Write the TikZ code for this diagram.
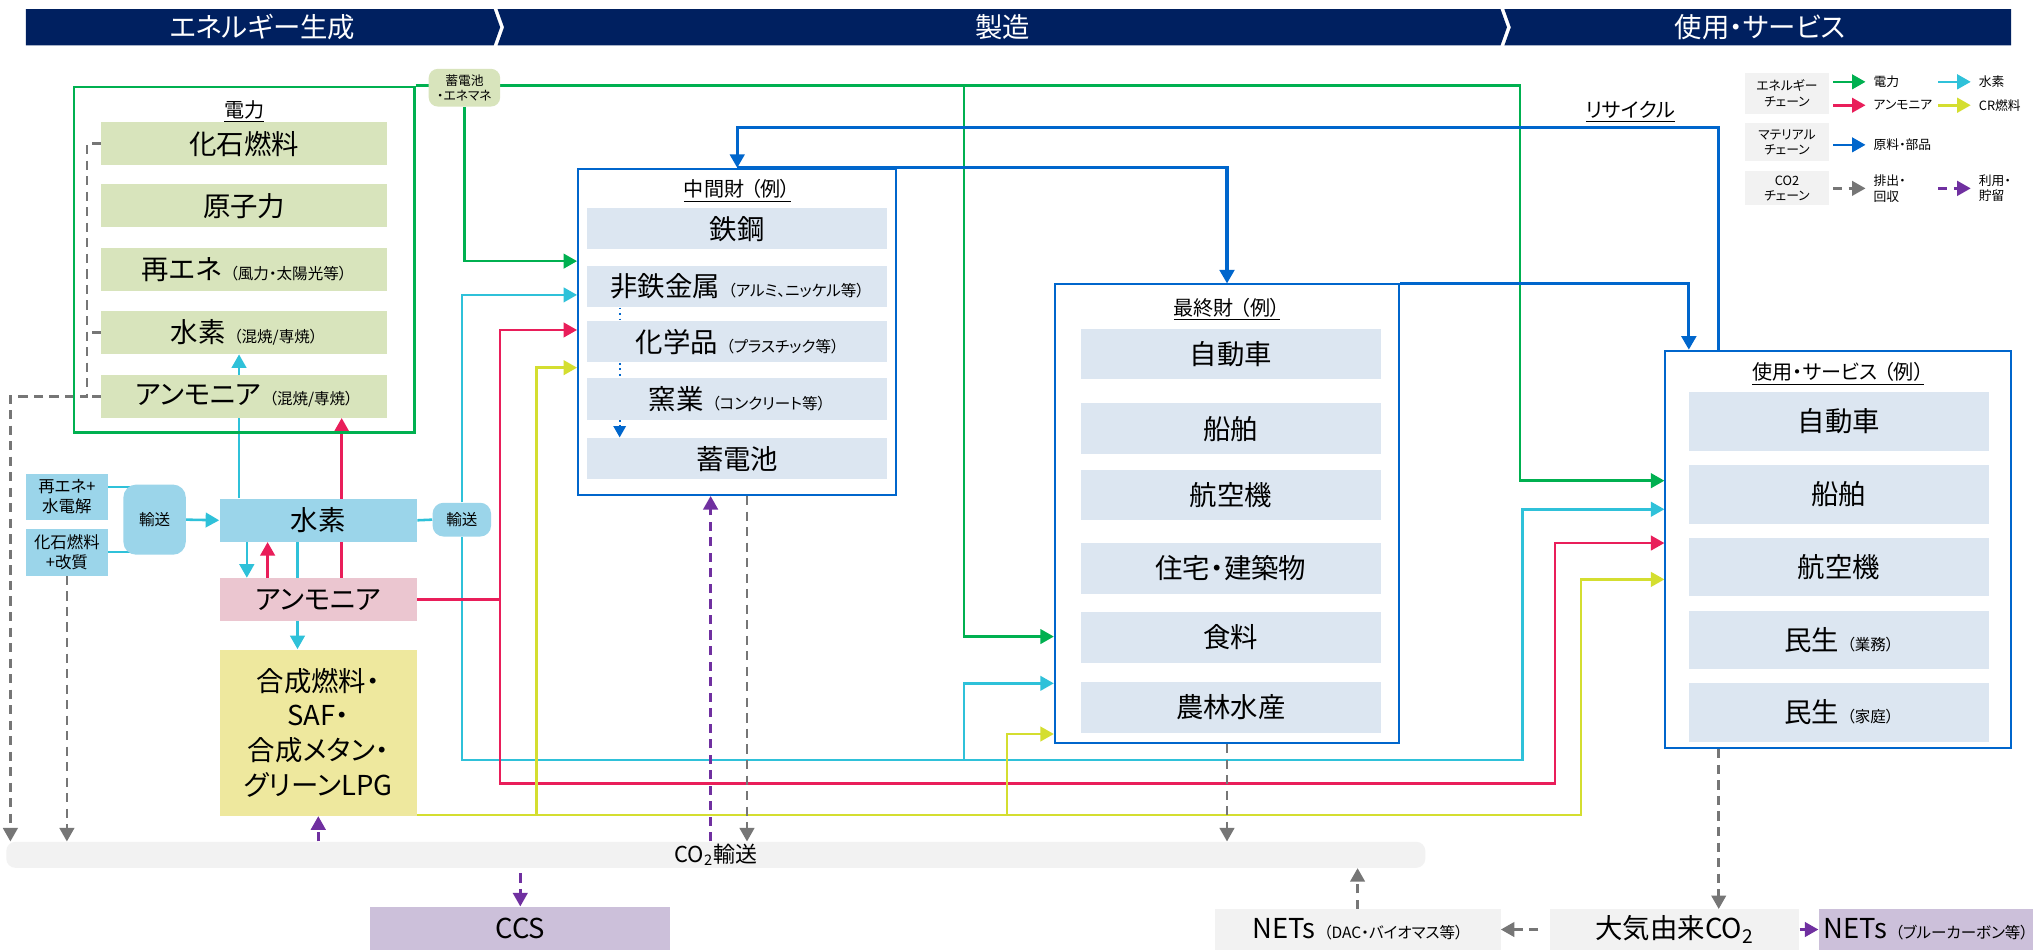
\documentclass[tikz,border=0pt]{standalone}
\usepackage{fontspec}
\setmainfont{Noto Sans CJK JP}[RawFeature={+palt}]
\usetikzlibrary{arrows.meta, positioning, backgrounds}
\definecolor{navy}{HTML}{002060}
\definecolor{elec}{HTML}{00B050}
\definecolor{hydro}{HTML}{2FC1D9}
\definecolor{ammo}{HTML}{E91E5A}
\definecolor{crfuel}{HTML}{D4DE30}
\definecolor{matl}{HTML}{0066CC}
\definecolor{emit}{HTML}{767676}
\definecolor{store}{HTML}{7030A0}
\definecolor{pgreen}{HTML}{D8E4BC}
\definecolor{itemblue}{HTML}{DCE6F1}
\definecolor{h2fill}{HTML}{9BD5EA}
\definecolor{nh3fill}{HTML}{EBC6D0}
\definecolor{synfill}{HTML}{EEE89E}
\definecolor{ccsfill}{HTML}{CCC0DA}
\definecolor{greyfill}{HTML}{F2F2F2}
\newcommand{\szBig}{\fontsize{15}{18}\selectfont}
\newcommand{\szSyn}{\fontsize{15}{19}\selectfont}
\newcommand{\szHead}{\fontsize{15}{18}\selectfont}
\newcommand{\szTitle}{\fontsize{11}{13}\selectfont}
\newcommand{\szCO}{\fontsize{12}{14}\selectfont}
\newcommand{\szMid}{\fontsize{9}{11}\selectfont}
\newcommand{\szSmall}{\fontsize{8.5}{10}\selectfont}
\newcommand{\szTiny}{\fontsize{7}{8.5}\selectfont}
\newcommand{\paren}[1]{\hspace{0.3em}{\szSmall （#1）}}

\begin{document}
\begin{tikzpicture}[
    x=0.025cm, y=-0.025cm,
    every node/.style={inner sep=0pt, font=\szBig},
    hd/.style={text=white, font=\szHead},
    ttl/.style={font=\szTitle},
    pitem/.style={fill=pgreen, minimum width=5.5cm, minimum height=0.825cm},
    initem/.style={fill=itemblue, minimum width=5.775cm},
    mitem/.style={initem, minimum height=0.8cm},
    fitem/.style={initem, minimum height=0.975cm},
    uitem/.style={initem, minimum height=1.125cm},
    boxframe/.style={draw=matl, line width=1.1pt},
    lgbox/.style={fill=greyfill, minimum width=1.625cm, font=\szTiny, align=center},
    lglab/.style={anchor=west, font=\szTiny, align=left},
    conn/.style={line width=1.4pt},
    arrow/.style={conn, -{Triangle[length=0.26cm, width=0.28cm]}},
    barrow/.style={arrow, matl, line width=1.7pt},
    gconn/.style={conn, emit, dash pattern=on 5pt off 3.5pt},
    gdash/.style={arrow, gconn},
    pdash/.style={arrow, store, dash pattern=on 5pt off 3.5pt},
]
\useasboundingbox (0,0) rectangle (1568,731);

\fill[navy] (20,7) -- (380,7) -- (385,21) -- (380,35) -- (20,35) -- cycle;
\fill[navy] (383,7) -- (1155,7) -- (1160,21) -- (1155,35) -- (383,35) -- (388,21) -- cycle;
\fill[navy] (1158,7) -- (1548,7) -- (1548,35) -- (1158,35) -- (1163,21) -- cycle;
\node[hd] (hdGen) at (202,21) {エネルギー生成};
\node[hd] (hdMfg) at (772,21) {製造};
\node[hd] (hdUse) at (1355,21) {使用・サービス};

\node[draw=elec, line width=1.4pt, minimum width=6.55cm, minimum height=6.65cm] (pwr) at (188,200) {};
\node[ttl] (pwrT) at (188,86) {\underline{電力}};
\node[pitem] (pFos) at (188,110.5) {化石燃料};
\node[pitem] (pNuc) at (188,158.5) {原子力};
\node[pitem] (pRen) at (188,207.5) {再エネ\paren{風力・太陽光等}};
\node[pitem] (pH2) at (188,256) {水素\paren{混焼/専焼}};
\node[pitem] (pNH3) at (188,305) {アンモニア\paren{混焼/専焼}};
\node[fill=pgreen, rounded corners=5pt, minimum width=1.375cm, minimum height=0.725cm, font=\szTiny, align=center] (bat) at (357.5,67.5) {蓄電池\\・エネマネ};

\node[boxframe, minimum width=6.125cm, minimum height=6.275cm] (mid) at (567.5,255.5) {};
\node[ttl] (midT) at (567.5,147) {\underline{中間財\hspace{0.3em}（例）}};
\node[mitem] (mSteel) at (567.5,176) {鉄鋼};
\node[mitem] (mMetal) at (567.5,220.5) {非鉄金属\paren{アルミ、ニッケル等}};
\node[mitem] (mChem) at (567.5,263) {化学品\paren{プラスチック等}};
\node[mitem] (mCer) at (567.5,307) {窯業\paren{コンクリート等}};
\node[mitem] (mBat) at (567.5,353) {蓄電池};

\node[boxframe, minimum width=6.625cm, minimum height=8.825cm] (fin) at (944.5,395.5) {};
\node[ttl] (finT) at (944.5,238) {\underline{最終財\hspace{0.3em}（例）}};
\node[fitem] (fCar) at (947.5,272.5) {自動車};
\node[fitem] (fShip) at (947.5,330) {船舶};
\node[fitem] (fAir) at (947.5,381) {航空機};
\node[fitem] (fHouse) at (947.5,437.5) {住宅・建築物};
\node[fitem] (fFood) at (947.5,490.5) {食料};
\node[fitem] (fAgri) at (947.5,544.5) {農林水産};

\node[boxframe, minimum width=6.65cm, minimum height=7.65cm] (use) at (1415,423) {};
\node[ttl] (useT) at (1415,288) {\underline{使用・サービス\hspace{0.3em}（例）}};
\node[uitem] (uCar) at (1415.5,324.5) {自動車};
\node[uitem] (uShip) at (1415.5,380.5) {船舶};
\node[uitem] (uAir) at (1415.5,436.5) {航空機};
\node[uitem] (uBiz) at (1415.5,492.5) {民生\paren{業務}};
\node[uitem] (uHome) at (1415.5,548.5) {民生\paren{家庭}};

\node[fill=h2fill, minimum width=1.575cm, minimum height=0.875cm, font=\szMid, align=center] (srcRen) at (51.5,382.5) {再エネ+\\水電解};
\node[fill=h2fill, minimum width=1.575cm, minimum height=0.9cm, font=\szMid, align=center] (srcFos) at (51.5,425) {化石燃料\\+改質};
\node[fill=h2fill, rounded corners=7pt, minimum width=1.2cm, minimum height=1.35cm, font=\szSmall] (trL) at (119,400) {輸送};
\node[fill=h2fill, minimum width=3.8cm, minimum height=0.825cm] (h2) at (245,400.5) {水素};
\node[fill=h2fill, rounded corners=6pt, minimum width=1.125cm, minimum height=0.65cm, font=\szSmall] (trR) at (355.5,400) {輸送};
\node[fill=nh3fill, minimum width=3.8cm, minimum height=0.825cm] (nh3) at (245,461.5) {アンモニア};
\node[fill=synfill, minimum width=3.8cm, minimum height=3.2cm, align=center, font=\szSyn] (syn) at (245,564) {合成燃料・\\SAF・\\合成メタン・\\グリーンLPG};

\node[fill=greyfill, rounded corners=5pt, minimum width=27.3cm, minimum height=0.5cm, font=\szCO] (co2) at (551,658) {CO\textsubscript{2}輸送};
\node[fill=ccsfill, minimum width=5.775cm, minimum height=0.825cm] (ccs) at (400.5,714.5) {CCS};
\node[fill=greyfill, minimum width=5.5cm, minimum height=0.775cm] (netA) at (1045,715.5) {NETs\paren{DAC・バイオマス等}};
\node[fill=greyfill, minimum width=4.8cm, minimum height=0.775cm] (air) at (1289,715.5) {大気由来CO\textsubscript{2}};
\node[fill=ccsfill, minimum width=4.125cm, minimum height=0.775cm] (netB) at (1482.5,715.5) {NETs\paren{ブルーカーボン等}};

\node[ttl] (rec) at (1255,86) {\underline{リサイクル}};

\node[lgbox, minimum height=0.8cm] (lgE) at (1375.5,72) {エネルギー\\チェーン};
\node[lgbox, minimum height=0.725cm] (lgM) at (1375.5,109.5) {マテリアル\\チェーン};
\node[lgbox, minimum height=0.65cm] (lgC) at (1375.5,145) {CO2\\チェーン};
\node[lglab] (lgPow) at (1442,63) {電力};
\node[lglab] (lgH2) at (1523,63) {水素};
\node[lglab] (lgNH3) at (1442,81) {アンモニア};
\node[lglab] (lgCR) at (1523,81) {CR燃料};
\node[lglab] (lgMat) at (1442,111.5) {原料・部品};
\node[lglab] (lgEmit) at (1442,145) {排出・\\回収};
\node[lglab] (lgUse) at (1523,145) {利用・\\貯留};

\coordinate (gSplit) at (742,67);
\coordinate (cSplit) at (742,585);
\coordinate (rSplit) at (385,461.5);
\coordinate (yMid) at (413,627.5);
\coordinate (yFin) at (775,627.5);
\coordinate (dashJoin) at (67,305);

\begin{scope}[on background layer]
\fill[white] (0,0) rectangle (1568,731);
\draw[arrow, elec] (pwr.north east) -| (1170,370) -- (use.west |- 0,370);
\draw[arrow, elec] (bat.south) |- (mid.west |- 0,201);
\draw[arrow, elec] (gSplit) |- (fin.west |- 0,490);

\draw[arrow, hydro] (184,0 |- h2.north) -- (184,0 |- pH2.south);
\draw[arrow, hydro] (190,0 |- h2.south) -- (190,0 |- nh3.north);
\draw[arrow, hydro] (229,0 |- h2.south) -- (229,0 |- syn.north);
\draw[conn, hydro] (srcRen.east |- 0,375) -- (trL.center |- 0,375);
\draw[conn, hydro] (srcFos.east |- 0,425) -- (trL.center |- 0,425);
\draw[arrow, hydro] (trL.east) -- (h2.west);
\draw[conn, hydro] (h2.east) -- (trR.west);
\draw[arrow, hydro] (trR.north) |- (mid.west |- 0,227);
\draw[arrow, hydro] (trR.south) |- (1172,585) |- (use.west |- 0,392);
\draw[arrow, hydro] (cSplit) |- (fin.west |- 0,526);

\draw[arrow, ammo] (263,0 |- nh3.north) -- (263,0 |- pNH3.south);
\draw[arrow, ammo] (206,0 |- nh3.north) -- (206,0 |- h2.south);
\draw[arrow, ammo] (nh3.east) -| (385,254) -- (mid.west |- 0,254);
\draw[arrow, ammo] (rSplit) |- (1197,603) |- (use.west |- 0,418);

\draw[arrow, crfuel] (syn.east |- 0,627.5) -| (1217,446) -- (use.west |- 0,446);
\draw[arrow, crfuel] (yMid) |- (mid.west |- 0,283);
\draw[arrow, crfuel] (yFin) |- (fin.west |- 0,565);

\draw[barrow] (mid.north) -| (fin.north);
\draw[barrow] (fin.north east) -| (1300,0 |- use.north);
\draw[barrow] (1323,0 |- use.north) |- (mid.north |- 0,98) -- (mid.north);
\draw[matl, line width=1pt, dotted] (477,0 |- mMetal.south) -- (477,0 |- mChem.north);
\draw[matl, line width=1pt, dotted] (477,0 |- mChem.south) -- (477,0 |- mCer.north);
\draw[matl, line width=1pt, dotted, -{Triangle[length=0.22cm, width=0.24cm]}] (477,0 |- mCer.south) -- (477,0 |- mBat.north);

\draw[gdash] (pFos.west) -| (dashJoin) -| (8,0 |- co2.north);
\draw[gconn] (pH2.west) -- (67,0 |- pH2.west);
\draw[gconn] (pNH3.west) -- (dashJoin);
\draw[gdash] (srcFos.south) -- (srcFos.south |- co2.north);
\draw[gdash] (575,0 |- mid.south) -- (575,0 |- co2.north);
\draw[gdash] (fin.south) -- (fin.south |- co2.north);
\draw[gdash] (netA.north) -- (netA.north |- co2.south);
\draw[gdash, shorten <=6pt] (air.west) -- (netA.east);
\draw[gdash] (1323,0 |- use.south) -- (1323,0 |- air.north);

\draw[pdash] (547,0 |- co2.north) -- (547,0 |- mid.south);
\draw[pdash] (syn.south |- co2.north) -- (syn.south);
\draw[pdash] ([yshift=-0.1cm]co2.south -| ccs.north) -- (ccs.north);
\draw[arrow, store] (air.east) -- (netB.west);

\draw[arrow, elec] ([xshift=-0.775cm]lgPow.west) -- ([xshift=-0.15cm]lgPow.west);
\draw[arrow, hydro] ([xshift=-0.775cm]lgH2.west) -- ([xshift=-0.15cm]lgH2.west);
\draw[arrow, ammo] ([xshift=-0.775cm]lgNH3.west) -- ([xshift=-0.15cm]lgNH3.west);
\draw[arrow, crfuel] ([xshift=-0.775cm]lgCR.west) -- ([xshift=-0.15cm]lgCR.west);
\draw[arrow, matl] ([xshift=-0.775cm]lgMat.west) -- ([xshift=-0.15cm]lgMat.west);
\draw[gdash] ([xshift=-0.775cm]lgEmit.west) -- ([xshift=-0.15cm]lgEmit.west);
\draw[pdash] ([xshift=-0.775cm]lgUse.west) -- ([xshift=-0.15cm]lgUse.west);
\end{scope}
\end{tikzpicture}
\end{document}
